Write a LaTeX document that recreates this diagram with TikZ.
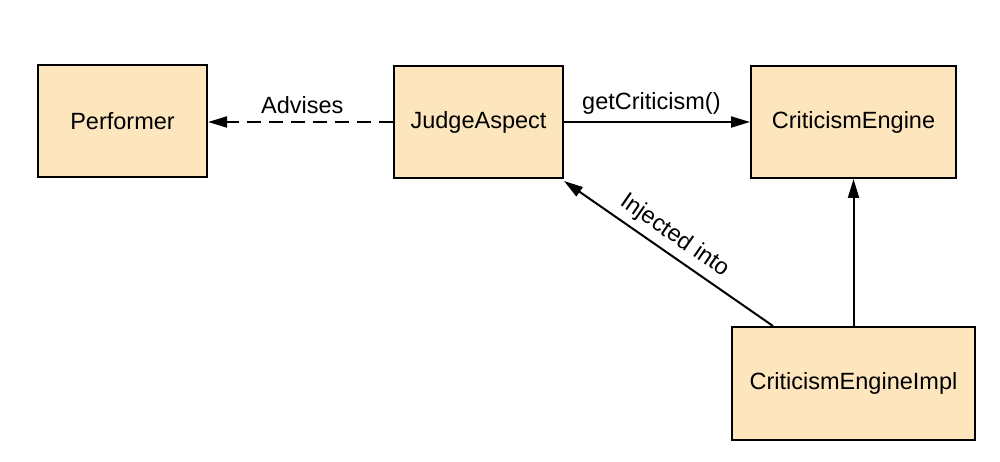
\documentclass[tikz,border=0pt]{standalone}
\usepackage{fontspec}
\setmainfont{Liberation Sans}
\usetikzlibrary{arrows.meta,calc}
\definecolor{boxfill}{RGB}{253,230,190}
\begin{document}
\begin{tikzpicture}[x=1pt,y=-1pt,
  cls/.style={draw=black,line width=2pt,fill=boxfill,inner sep=0pt,
    font=\fontsize{23.5}{26}\selectfont},
  conn/.style={line width=2pt,-{Triangle[length=19pt,width=11pt]}},
  lbl/.style={font=\fontsize{23.5}{26}\selectfont,inner sep=2pt}]
\useasboundingbox (0,0) rectangle (1000,462);
\node[cls,minimum width=169pt,minimum height=112pt] (perf) at (122.5,121) {Performer};
\node[cls,minimum width=169pt,minimum height=112pt] (judge) at (478.5,122) {JudgeAspect};
\node[cls,minimum width=205pt,minimum height=112pt] (engine) at (853.5,122) {CriticismEngine};
\node[cls,minimum width=243pt,minimum height=113pt] (impl) at (853.5,383.5) {CriticismEngineImpl};
\draw[conn,dash pattern=on 14pt off 8pt] (judge.west) -- node[lbl,above=5pt,pos=0.49] {Advises} (perf.east |- judge.west);
\draw[conn] (judge.east) -- node[lbl,above=5pt,pos=0.47] {getCriticism()} (engine.west);
\draw[conn] ($(impl.north west)+(42,0)$) -- node[lbl,sloped,above=4pt,pos=0.52] {Injected into} ($(judge.south east)+(0,2)$);
\draw[conn] (impl.north) -- (engine.south);
\end{tikzpicture}
\end{document}
